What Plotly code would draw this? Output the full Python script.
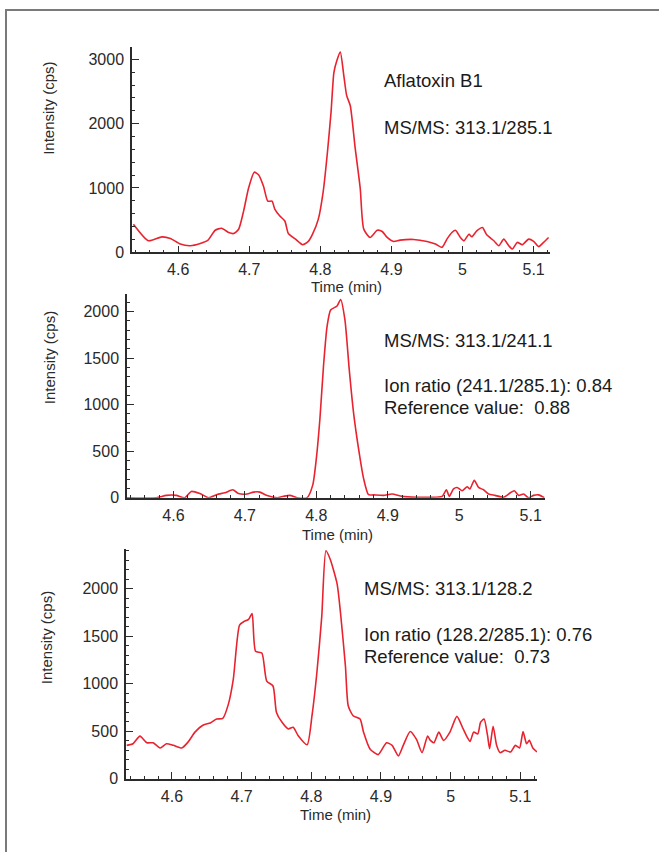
import plotly.graph_objects as go

W, H = 659, 852

# ---------------- data ----------------
t1 = [4.537, 4.558, 4.577, 4.589, 4.603, 4.617, 4.631, 4.642, 4.652, 4.661, 4.671, 4.678,
      4.685, 4.692, 4.699, 4.707, 4.713, 4.720, 4.726, 4.732, 4.736, 4.743, 4.750, 4.755,
      4.765, 4.775, 4.783, 4.789, 4.797, 4.804, 4.810, 4.815, 4.819, 4.823, 4.828, 4.833,
      4.837, 4.842, 4.849, 4.856, 4.861, 4.870, 4.880, 4.887, 4.894, 4.903, 4.912, 4.931,
      4.950, 4.962, 4.971, 4.978, 4.985, 4.990, 4.997, 5.002, 5.009, 5.013, 5.020, 5.028,
      5.031, 5.034, 5.044, 5.051, 5.058, 5.065, 5.070, 5.077, 5.084, 5.093, 5.100, 5.107,
      5.114, 5.121]
v1 = [435, 180, 240, 215, 128, 103, 138, 190, 343, 374, 308, 292,
      358, 641, 1000, 1246, 1205, 1026, 795, 795, 666, 564, 487, 292,
      205, 118, 169, 282, 512, 949, 1564, 2180, 2795, 2974, 3112, 2743,
      2436, 2282, 1615, 1000, 360, 231, 343, 323, 231, 169, 189, 200,
      169, 128, 77, 205, 308, 343, 231, 180, 282, 241, 333, 385,
      333, 272, 180, 103, 205, 103, 51, 154, 118, 205, 169, 88,
      154, 231]

t2 = [4.535, 4.576, 4.590, 4.604, 4.616, 4.625, 4.637, 4.649, 4.661, 4.672, 4.683, 4.691,
      4.703, 4.712, 4.721, 4.730, 4.745, 4.754, 4.763, 4.773, 4.787, 4.795, 4.800, 4.805,
      4.810, 4.815, 4.820, 4.829, 4.834, 4.840, 4.846, 4.852, 4.859, 4.866, 4.873, 4.880,
      4.894, 4.906, 4.920, 4.941, 4.959, 4.976, 4.982, 4.986, 4.992, 4.997, 5.004, 5.011,
      5.015, 5.021, 5.027, 5.034, 5.041, 5.050, 5.062, 5.071, 5.077, 5.083, 5.090, 5.097,
      5.104, 5.111, 5.119]
v2 = [0, 0, 25, 25, 0, 67, 45, 0, 35, 52, 85, 45,
      40, 60, 60, 25, 0, 15, 25, 0, 0, 138, 422, 848,
      1415, 1841, 2018, 2061, 2131, 1912, 1380, 918, 529, 210, 32, 30,
      25, 40, 14, 5, 5, 14, 85, 14, 95, 110, 75, 117,
      95, 188, 110, 85, 40, 25, 5, 50, 75, 25, 40, 0,
      25, 30, 0]

t3 = [4.535, 4.544, 4.554, 4.564, 4.573, 4.583, 4.592, 4.602, 4.614, 4.623, 4.633, 4.645,
      4.655, 4.664, 4.673, 4.681, 4.688, 4.697, 4.703, 4.710, 4.715, 4.720, 4.729, 4.736,
      4.745, 4.750, 4.758, 4.767, 4.774, 4.781, 4.794, 4.801, 4.808, 4.815, 4.821, 4.827,
      4.837, 4.842, 4.849, 4.853, 4.860, 4.870, 4.875, 4.884, 4.896, 4.908, 4.916, 4.925,
      4.932, 4.942, 4.951, 4.959, 4.967, 4.971, 4.976, 4.983, 4.990, 4.999, 5.009, 5.018,
      5.023, 5.028, 5.033, 5.039, 5.043, 5.048, 5.053, 5.056, 5.061, 5.066, 5.071, 5.078,
      5.086, 5.093, 5.099, 5.104, 5.109, 5.113, 5.118, 5.124]
v3 = [351, 368, 448, 378, 378, 323, 368, 351, 323, 385, 490, 566,
      587, 628, 636, 785, 1045, 1618, 1653, 1678, 1740, 1341, 1323, 1028,
      976, 698, 594, 524, 542, 455, 357, 663, 1115, 1706, 2400, 2313,
      2053, 1740, 1185, 768, 663, 628, 490, 316, 253, 378, 351, 240,
      351, 497, 413, 274, 448, 403, 378, 490, 403, 490, 656, 524,
      448, 393, 490, 472, 594, 628, 455, 316, 552, 351, 274, 299,
      281, 351, 323, 497, 368, 403, 323, 281]

x_ticks = [4.6, 4.7, 4.8, 4.9, 5.0, 5.1]
x_tick_text = ["4.6", "4.7", "4.8", "4.9", "5", "5.1"]

panel_texts = [
    ["Aflatoxin B1", "MS/MS: 313.1/285.1"],
    ["MS/MS: 313.1/241.1", "Ion ratio (241.1/285.1): 0.84", "Reference value:  0.88"],
    ["MS/MS: 313.1/128.2", "Ion ratio (128.2/285.1): 0.76", "Reference value:  0.73"],
]
y_title = "Intensity (cps)"
x_title = "Time (min)"

# ---------------- layout helpers ----------------
def px(x):
    return x / W

def py(y):
    return 1 - y / H

LINE = "#e8232f"
AX = "#2b2b2b"
TICKFONT = dict(family="Liberation Sans, Arial, sans-serif", size=16, color="#2a2a2a")

fig = go.Figure()
for i, (t, v) in enumerate([(t1, v1), (t2, v2), (t3, v3)]):
    suf = "" if i == 0 else str(i + 1)
    fig.add_trace(go.Scatter(x=t, y=v, mode="lines",
                             line=dict(color=LINE, width=1.6, shape="spline", smoothing=0.6),
                             xaxis="x" + suf, yaxis="y" + suf, showlegend=False,
                             hoverinfo="skip", cliponaxis=True))

# panel geometry in pixels: (left, right, top, bottom)
geom = [(132, 550, 47, 255), (127, 545, 297, 503), (126, 537, 555, 787)]
xr = [[4.535, 5.123], [4.535, 5.120], [4.534, 5.124]]
yr = [[0, 3200], [0, 2191], [0, 2417]]
ydt = [1000, 500, 500]
ymin = [200, 100, 100]

lay = {}
for i in range(3):
    l, r, tp, b = geom[i]
    suf = "" if i == 0 else str(i + 1)
    lay["xaxis" + suf] = dict(
        domain=[px(l), px(r)], range=xr[i], anchor="y" + suf,
        showline=True, linecolor=AX, linewidth=1.5, showgrid=False, zeroline=False,
        ticks="inside", ticklen=7, tickwidth=1.3, tickcolor=AX,
        tickvals=x_ticks, ticktext=x_tick_text, tickfont=TICKFONT,
        ticklabelstandoff=2,
        minor=dict(ticks="inside", ticklen=3, tickwidth=1, tickcolor=AX, dtick=0.02,
                   tick0=4.5, showgrid=False),
        fixedrange=True)
    lay["yaxis" + suf] = dict(
        domain=[py(b), py(tp)], range=yr[i], anchor="x" + suf,
        showline=True, linecolor=AX, linewidth=1.5, showgrid=False, zeroline=False,
        ticks="inside", ticklen=7, tickwidth=1.3, tickcolor=AX,
        dtick=ydt[i], tick0=0, tickfont=TICKFONT, ticklabelstandoff=3,
        minor=dict(ticks="inside", ticklen=3, tickwidth=1, tickcolor=AX, dtick=ymin[i],
                   showgrid=False),
        fixedrange=True)

annotations = []
TXT = dict(family="Liberation Sans, Arial, sans-serif", size=18.5, color="#1a1a1a")
text_pos = [
    [(382, 81), (382, 129)],
    [(382, 344), (382, 390), (382, 412)],
    [(362, 595), (362, 641), (362, 664)],
]
for i in range(3):
    for txt, (x, y) in zip(panel_texts[i], text_pos[i]):
        annotations.append(dict(text=txt, x=px(x), y=py(y), xref="paper", yref="paper",
                                xanchor="left", yanchor="middle", showarrow=False, font=TXT))

TITLEFONT = dict(family="Liberation Sans, Arial, sans-serif", size=15, color="#2a2a2a")
for (x, y) in [(49, 110), (49, 362), (46, 645)]:
    annotations.append(dict(text=y_title, x=px(x), y=py(y), xref="paper", yref="paper",
                            xanchor="center", yanchor="middle", textangle=-90,
                            showarrow=False, font=TITLEFONT))
for (x, y) in [(346, 290), (337, 540), (335, 823)]:
    annotations.append(dict(text=x_title, x=px(x), y=py(y), xref="paper", yref="paper",
                            xanchor="center", yanchor="middle", showarrow=False,
                            font=TITLEFONT))

shapes = [dict(type="rect", xref="paper", yref="paper", x0=px(6), x1=1.2, y0=-0.2, y1=py(10),
               line=dict(color="#7a7a7a", width=2), fillcolor="rgba(0,0,0,0)", layer="below")]

fig.update_layout(
    width=W, height=H, margin=dict(l=0, r=0, t=0, b=0),
    paper_bgcolor="white", plot_bgcolor="rgba(0,0,0,0)",
    annotations=annotations, shapes=shapes, showlegend=False,
    **lay)

fig.write_html("out.html", config=dict(displayModeBar=False))
